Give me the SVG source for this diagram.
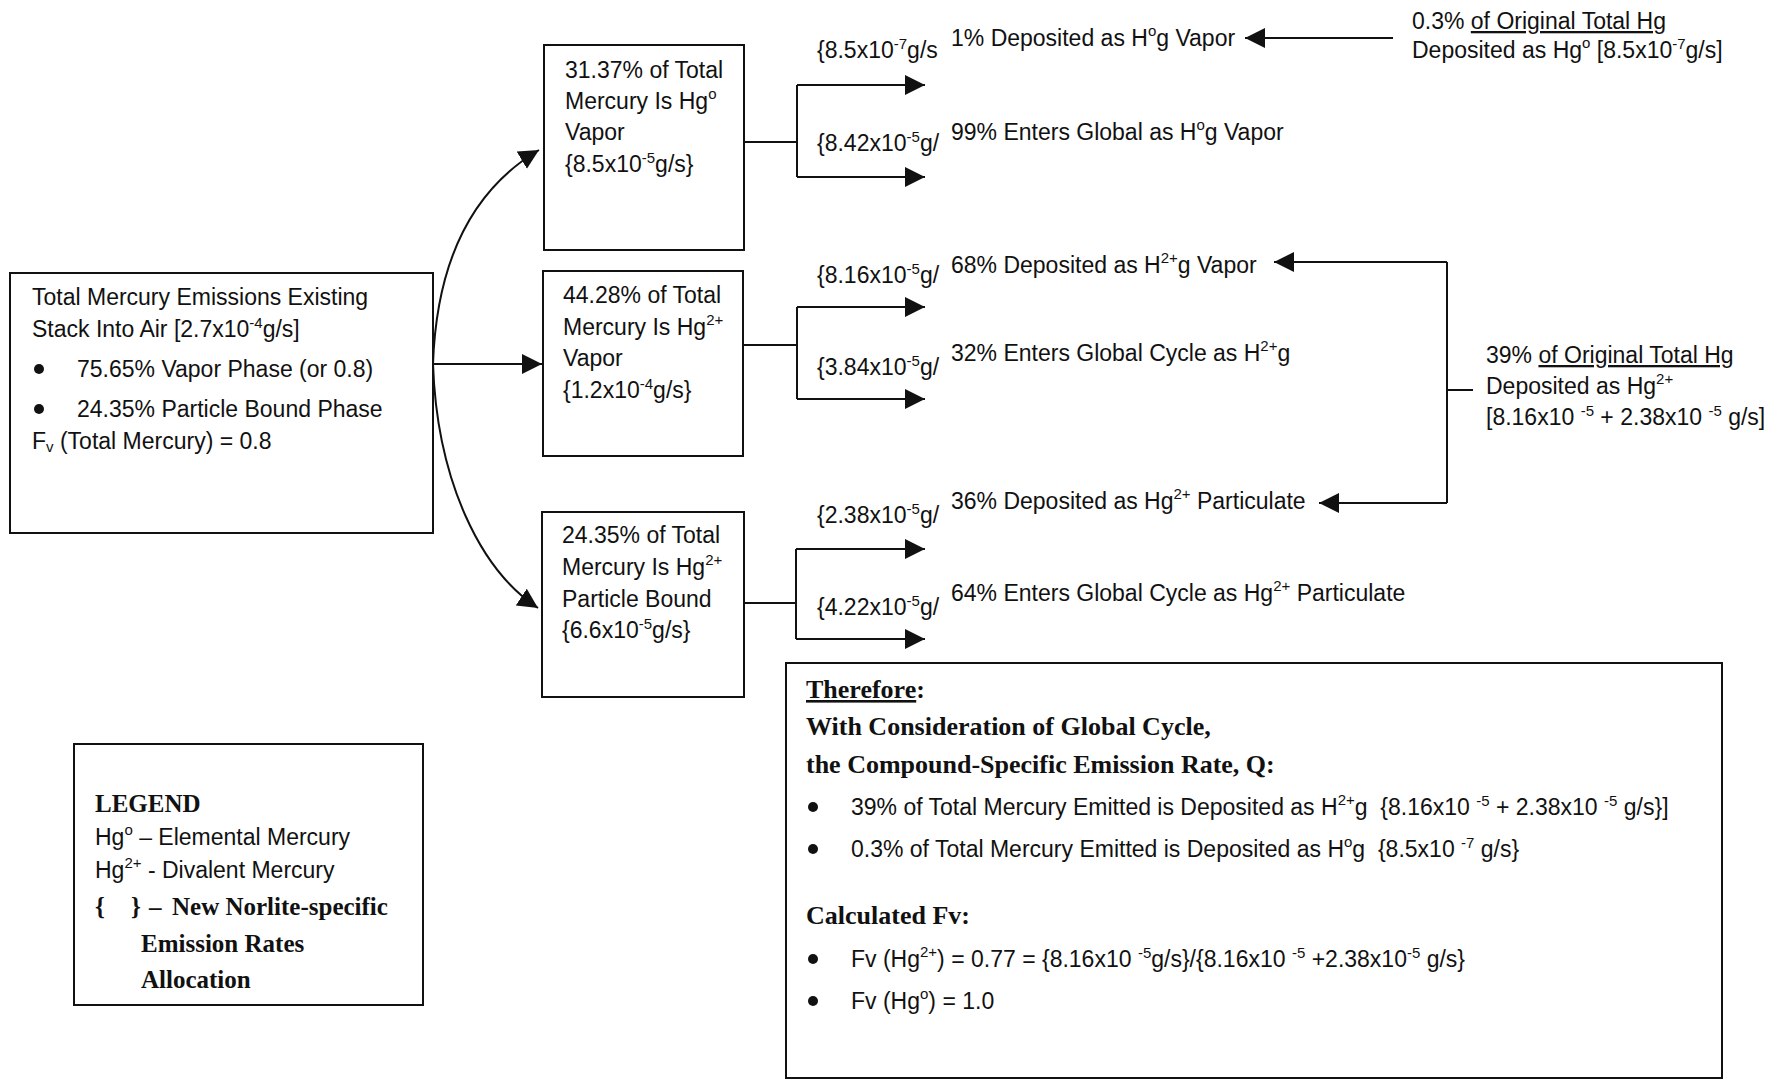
<svg xmlns="http://www.w3.org/2000/svg" width="1767" height="1080" viewBox="0 0 1767 1080">
<style>
.t{font-family:"Liberation Sans",Arial,sans-serif;font-size:23px;fill:#111}
.b{font-family:"Liberation Serif","Times New Roman",serif;font-weight:bold;font-size:26px;fill:#111}
.lg{font-size:25px}
.box{fill:#fff;stroke:#111;stroke-width:2}
.ln{fill:none;stroke:#111;stroke-width:2}
.u{text-decoration:underline}
.dot{fill:#111}
</style>
<defs>
<marker id="ah" markerUnits="userSpaceOnUse" markerWidth="22" markerHeight="22" refX="20" refY="10" orient="auto" viewBox="0 0 22 22">
<path d="M0,0 L20,10 L0,20 Z" fill="#111"/>
</marker>
</defs>
<rect width="1767" height="1080" fill="#fff"/>

<g id="connectors">
<path class="ln" d="M433,364 C437,250 480,185 539,150" marker-end="url(#ah)"/>
<path class="ln" d="M433,364 L542,364" marker-end="url(#ah)"/>
<path class="ln" d="M433,364 C437,480 480,570 538,608" marker-end="url(#ah)"/>
<path class="ln" d="M744,142 H797 M797,85 V177"/>
<path class="ln" d="M797,85 H925" marker-end="url(#ah)"/>
<path class="ln" d="M797,177 H925" marker-end="url(#ah)"/>
<path class="ln" d="M743,345 H797 M797,307 V399"/>
<path class="ln" d="M797,307 H925" marker-end="url(#ah)"/>
<path class="ln" d="M797,399 H925" marker-end="url(#ah)"/>
<path class="ln" d="M744,603 H796 M796,549 V639"/>
<path class="ln" d="M796,549 H925" marker-end="url(#ah)"/>
<path class="ln" d="M796,639 H925" marker-end="url(#ah)"/>
<path class="ln" d="M1393,38 H1245" marker-end="url(#ah)"/>
<path class="ln" d="M1447,262 V503 M1447,390 H1473"/>
<path class="ln" d="M1447,262 H1274" marker-end="url(#ah)"/>
<path class="ln" d="M1447,503 H1319" marker-end="url(#ah)"/>
</g>

<g id="total-emissions">
<rect class="box" x="10" y="273" width="423" height="260"/>
<text class="t" x="32" y="305">Total Mercury Emissions Existing</text>
<text class="t" x="32" y="337">Stack Into Air [2.7x10<tspan font-size="15" dy="-9">-4</tspan><tspan dy="9">g/s]</tspan></text>
<circle class="dot" cx="39" cy="369" r="5"/>
<text class="t" x="77" y="377">75.65% Vapor Phase (or 0.8)</text>
<circle class="dot" cx="39" cy="409" r="5"/>
<text class="t" x="77" y="417">24.35% Particle Bound Phase</text>
<text class="t" x="32" y="449">F<tspan font-size="15" dy="3">v</tspan><tspan dy="-3"> (Total Mercury) = 0.8</tspan></text>
</g>

<g id="hg0-vapor">
<rect class="box" x="544" y="45" width="200" height="205"/>
<text class="t" x="565" y="78">31.37% of Total</text>
<text class="t" x="565" y="109">Mercury Is Hg<tspan font-size="15" dy="-10">o</tspan></text>
<text class="t" x="565" y="140">Vapor</text>
<text class="t" x="565" y="172">{8.5x10<tspan font-size="15" dy="-9">-5</tspan><tspan dy="9">g/s}</tspan></text>
</g>

<g id="hg2-vapor">
<rect class="box" x="543" y="271" width="200" height="185"/>
<text class="t" x="563" y="303">44.28% of Total</text>
<text class="t" x="563" y="335">Mercury Is Hg<tspan font-size="15" dy="-10">2+</tspan></text>
<text class="t" x="563" y="366">Vapor</text>
<text class="t" x="563" y="398">{1.2x10<tspan font-size="15" dy="-9">-4</tspan><tspan dy="9">g/s}</tspan></text>
</g>

<g id="hg2-particle">
<rect class="box" x="542" y="512" width="202" height="185"/>
<text class="t" x="562" y="543">24.35% of Total</text>
<text class="t" x="562" y="575">Mercury Is Hg<tspan font-size="15" dy="-10">2+</tspan></text>
<text class="t" x="562" y="607">Particle Bound</text>
<text class="t" x="562" y="638">{6.6x10<tspan font-size="15" dy="-9">-5</tspan><tspan dy="9">g/s}</tspan></text>
</g>

<g id="flow-labels">
<text class="t" x="817" y="58">{8.5x10<tspan font-size="15" dy="-9">-7</tspan><tspan dy="9">g/s</tspan></text>
<text class="t" x="817" y="151">{8.42x10<tspan font-size="15" dy="-9">-5</tspan><tspan dy="9">g/</tspan></text>
<text class="t" x="817" y="283">{8.16x10<tspan font-size="15" dy="-9">-5</tspan><tspan dy="9">g/</tspan></text>
<text class="t" x="817" y="375">{3.84x10<tspan font-size="15" dy="-9">-5</tspan><tspan dy="9">g/</tspan></text>
<text class="t" x="817" y="523">{2.38x10<tspan font-size="15" dy="-9">-5</tspan><tspan dy="9">g/</tspan></text>
<text class="t" x="817" y="615">{4.22x10<tspan font-size="15" dy="-9">-5</tspan><tspan dy="9">g/</tspan></text>
</g>

<g id="hg0-deposited">
<text class="t" x="951" y="46">1% Deposited as H<tspan font-size="15" dy="-10">o</tspan><tspan dy="10">g Vapor</tspan></text>
</g>
<g id="hg0-global">
<text class="t" x="951" y="140">99% Enters Global as H<tspan font-size="15" dy="-10">o</tspan><tspan dy="10">g Vapor</tspan></text>
</g>
<g id="hg2-vapor-deposited">
<text class="t" x="951" y="273">68% Deposited as H<tspan font-size="15" dy="-10">2+</tspan><tspan dy="10">g Vapor</tspan></text>
</g>
<g id="hg2-vapor-global">
<text class="t" x="951" y="361">32% Enters Global Cycle as H<tspan font-size="15" dy="-10">2+</tspan><tspan dy="10">g</tspan></text>
</g>
<g id="hg2-particle-deposited">
<text class="t" x="951" y="509">36% Deposited as Hg<tspan font-size="15" dy="-10">2+</tspan><tspan dy="10"> Particulate</tspan></text>
</g>
<g id="hg2-particle-global">
<text class="t" x="951" y="601">64% Enters Global Cycle as Hg<tspan font-size="15" dy="-10">2+</tspan><tspan dy="10"> Particulate</tspan></text>
</g>

<g id="hg0-original">
<text class="t" x="1412" y="29">0.3% <tspan class="u">of Original Total Hg</tspan></text>
<text class="t" x="1412" y="58">Deposited as Hg<tspan font-size="15" dy="-10">o</tspan><tspan dy="10"> [8.5x10</tspan><tspan font-size="15" dy="-9">-7</tspan><tspan dy="9">g/s]</tspan></text>
</g>

<g id="hg2-original">
<text class="t" x="1486" y="363">39% <tspan class="u">of Original Total Hg</tspan></text>
<text class="t" x="1486" y="394">Deposited as Hg<tspan font-size="15" dy="-10">2+</tspan></text>
<text class="t" x="1486" y="425">[8.16x10 <tspan font-size="15" dy="-9">-5</tspan><tspan dy="9"> + 2.38x10 </tspan><tspan font-size="15" dy="-9">-5</tspan><tspan dy="9"> g/s]</tspan></text>
</g>

<g id="legend">
<rect class="box" x="74" y="744" width="349" height="261"/>
<text class="b lg" x="95" y="812">LEGEND</text>
<text class="t" x="95" y="845">Hg<tspan font-size="15" dy="-10">o</tspan><tspan dy="10"> – Elemental Mercury</tspan></text>
<text class="t" x="95" y="878">Hg<tspan font-size="15" dy="-10">2+</tspan><tspan dy="10"> - Divalent Mercury</tspan></text>
<text class="b lg" x="95" y="915">{<tspan x="131">}</tspan><tspan x="149">–</tspan><tspan x="172">New Norlite-specific</tspan></text>
<text class="b lg" x="141" y="952">Emission Rates</text>
<text class="b lg" x="141" y="988">Allocation</text>
</g>

<g id="therefore">
<rect class="box" x="786" y="663" width="936" height="415"/>
<text class="b" x="806" y="698"><tspan class="u">Therefore</tspan>:</text>
<text class="b" x="806" y="735">With Consideration of Global Cycle,</text>
<text class="b" x="806" y="773">the Compound-Specific Emission Rate, Q:</text>
<circle class="dot" cx="813" cy="807" r="5"/>
<text class="t" x="851" y="815">39% of Total Mercury Emitted is Deposited as H<tspan font-size="15" dy="-10">2+</tspan><tspan dy="10">g &#160;{8.16x10 </tspan><tspan font-size="15" dy="-9">-5</tspan><tspan dy="9"> + 2.38x10 </tspan><tspan font-size="15" dy="-9">-5</tspan><tspan dy="9"> g/s}]</tspan></text>
<circle class="dot" cx="813" cy="849" r="5"/>
<text class="t" x="851" y="857">0.3% of Total Mercury Emitted is Deposited as H<tspan font-size="15" dy="-10">o</tspan><tspan dy="10">g &#160;{8.5x10 </tspan><tspan font-size="15" dy="-9">-7</tspan><tspan dy="9"> g/s}</tspan></text>
<text class="b" x="806" y="924">Calculated Fv:</text>
<circle class="dot" cx="813" cy="959" r="5"/>
<text class="t" x="851" y="967">Fv (Hg<tspan font-size="15" dy="-10">2+</tspan><tspan dy="10">) = 0.77 = {8.16x10 </tspan><tspan font-size="15" dy="-9">-5</tspan><tspan dy="9">g/s}/{8.16x10 </tspan><tspan font-size="15" dy="-9">-5</tspan><tspan dy="9"> +2.38x10</tspan><tspan font-size="15" dy="-9">-5</tspan><tspan dy="9"> g/s}</tspan></text>
<circle class="dot" cx="813" cy="1001" r="5"/>
<text class="t" x="851" y="1009">Fv (Hg<tspan font-size="15" dy="-10">o</tspan><tspan dy="10">) = 1.0</tspan></text>
</g>
</svg>
